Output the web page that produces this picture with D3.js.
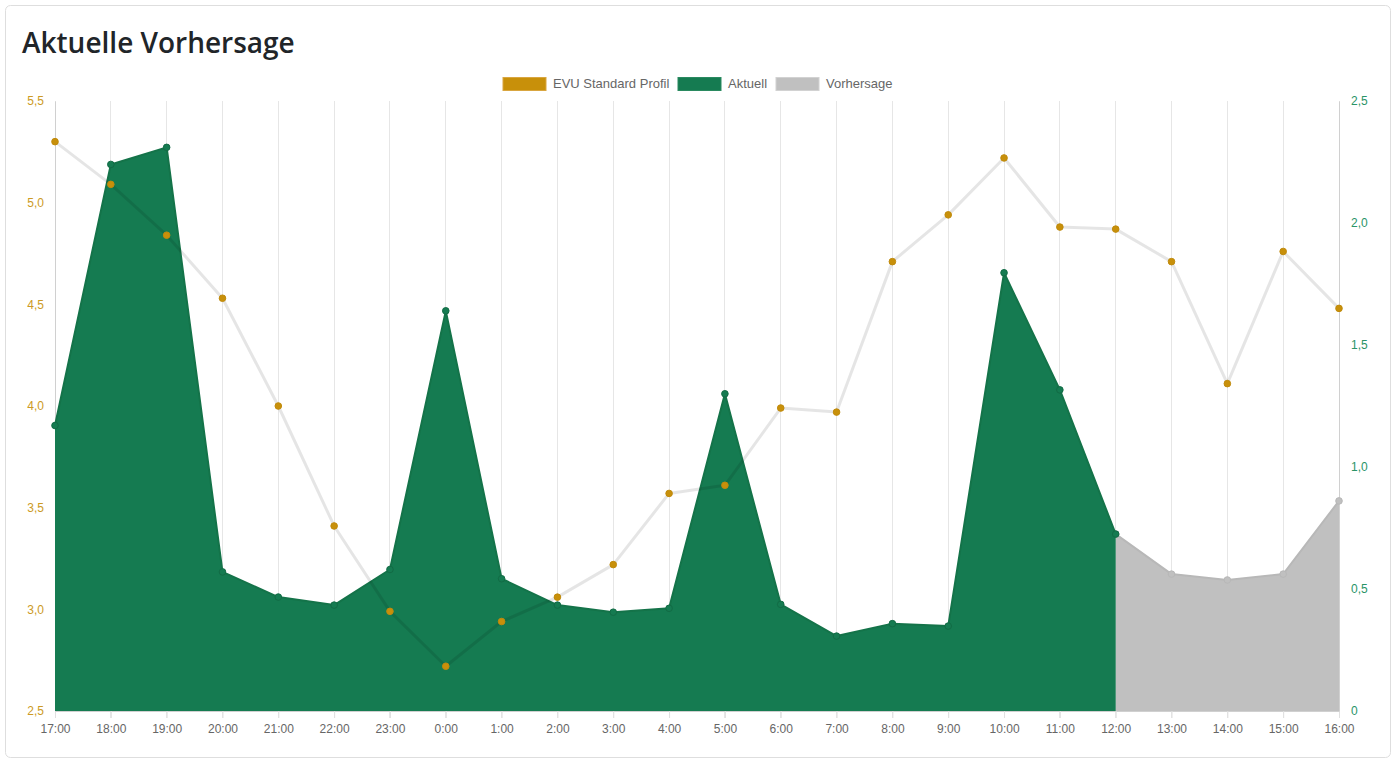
<!DOCTYPE html>
<html>
<head>
<meta charset="utf-8">
<script src="https://cdn.jsdelivr.net/npm/d3@7"></script>
<style>
  html, body { margin: 0; padding: 0; background: #fff; }
  svg { display: block; }
</style>
</head>
<body>
<svg id="chart" width="1397" height="760"></svg>
<script>
// ---- data ----
const hours = ["17:00","18:00","19:00","20:00","21:00","22:00","23:00","0:00","1:00","2:00","3:00","4:00",
               "5:00","6:00","7:00","8:00","9:00","10:00","11:00","12:00","13:00","14:00","15:00","16:00"];
const evuProfil = [5.30,5.09,4.84,4.53,4.00,3.41,2.99,2.72,2.94,3.06,3.22,3.57,
                   3.61,3.99,3.97,4.71,4.94,5.22,4.88,4.87,4.71,4.11,4.76,4.48];
const aktuell = [1.17,2.24,2.31,0.57,0.467,0.434,0.58,1.64,0.542,0.434,0.405,0.421,
                 1.30,0.437,0.307,0.358,0.348,1.796,1.316,0.725,null,null,null,null];
const vorhersage = [null,null,null,null,null,null,null,null,null,null,null,null,
                    null,null,null,null,null,null,null,0.725,0.561,0.537,0.561,0.861];
const leftTicks = [2.5,3.0,3.5,4.0,4.5,5.0,5.5];
const rightTicks = [0,0.5,1.0,1.5,2.0,2.5];
const legendItems = ["EVU Standard Profil","Aktuell","Vorhersage"];
const chartTitle = "Aktuelle Vorhersage";

(function () {
// ---- styles ----
const GOLD = "#c8900a", GREEN = "#157b51", GRAY = "#c0c0c0";
const fmt = v => d3.format(".1f")(v).replace(".", ",");
const fmtR = v => v === 0 ? "0" : d3.format(".1f")(v).replace(".", ",");

const svg = d3.select("#chart");
// card
svg.append("rect").attr("x",5.5).attr("y",5.5).attr("width",1385).attr("height",752)
  .attr("rx",5).attr("fill","#fff").attr("stroke","#dedede");
svg.append("text").attr("x",22).attr("y",53).text(chartTitle)
  .attr("font-family","'Open Sans', sans-serif").attr("font-weight",600)
  .attr("font-size",28).attr("fill","#212529");

const pL = 55, pR = 1339, pT = 101, pB = 711;
const x = d3.scalePoint().domain(hours).range([pL, pR]);
const yL = d3.scaleLinear().domain([2.5,5.5]).range([pB, pT]);
const yR = d3.scaleLinear().domain([0,2.5]).range([pB, pT]);

const font = "'Liberation Sans', Arial, sans-serif";

// vertical gridlines
svg.append("g").selectAll("line").data(hours).join("line")
  .attr("x1", d => x(d)).attr("x2", d => x(d)).attr("y1", pT).attr("y2", pB + 7)
  .attr("stroke", "#e6e6e6").attr("stroke-width", 1).attr("shape-rendering","crispEdges");

// x axis
const xAxis = svg.append("g").attr("transform", `translate(0,${pB})`)
  .call(d3.axisBottom(x).tickSize(7).tickPadding(6));
xAxis.select(".domain").attr("stroke","#d0d0d0");
xAxis.selectAll(".tick line").attr("stroke","#e0e0e0");
xAxis.selectAll("text").attr("font-family",font).attr("font-size",12).attr("fill","#666");

// left axis
const lAxis = svg.append("g").attr("transform", `translate(${pL},0)`)
  .call(d3.axisLeft(yL).tickValues(leftTicks).tickSize(0).tickPadding(11).tickFormat(fmt));
lAxis.select(".domain").attr("stroke","#d0d0d0");
lAxis.selectAll("text").attr("font-family",font).attr("font-size",12).attr("fill","#cc9a25");

// right axis
const rAxis = svg.append("g").attr("transform", `translate(${pR},0)`)
  .call(d3.axisRight(yR).tickValues(rightTicks).tickSize(0).tickPadding(12).tickFormat(fmtR));
rAxis.select(".domain").attr("stroke","#d0d0d0");
rAxis.selectAll("text").attr("font-family",font).attr("font-size",12).attr("fill","#2a9467");

const plot = svg.append("g");

function drawArea(vals, fill, stroke, ptStroke) {
  const data = hours.map((h,i) => ({h, v: vals[i]})).filter(d => d.v != null);
  const area = d3.area().x(d => x(d.h)).y0(pB).y1(d => yR(d.v));
  const line = d3.line().x(d => x(d.h)).y(d => yR(d.v));
  plot.append("path").attr("d", area(data)).attr("fill", fill);
  plot.append("path").attr("d", line(data)).attr("fill","none").attr("stroke", stroke)
    .attr("stroke-width", 2).attr("stroke-linejoin","round");
  plot.append("g").selectAll("circle").data(data).join("circle")
    .attr("cx", d => x(d.h)).attr("cy", d => yR(d.v)).attr("r", 3.3)
    .attr("fill", fill).attr("stroke", ptStroke).attr("stroke-width", 1);
}
// draw order: last dataset first
drawArea(vorhersage, GRAY, "#b8b8b8", "#b8b8b8");
drawArea(aktuell, GREEN, "#147349", "#126b45");

// EVU line on top
const evuData = hours.map((h,i) => ({h, v: evuProfil[i]}));
plot.append("path").attr("d", d3.line().x(d => x(d.h)).y(d => yL(d.v))(evuData))
  .attr("fill","none").attr("stroke","rgba(0,0,0,0.1)").attr("stroke-width",3)
  .attr("stroke-linejoin","round");
plot.append("g").selectAll("circle").data(evuData).join("circle")
  .attr("cx", d => x(d.h)).attr("cy", d => yL(d.v)).attr("r", 3.3)
  .attr("fill", GOLD).attr("stroke", "#c08a0c").attr("stroke-width", 1);

// legend
const legendColors = [[GOLD,"#d9a640"],[GREEN,"#2a8a60"],[GRAY,"#d2d2d2"]];
const legendX = [503, 678, 776];
const lg = svg.append("g");
legendItems.forEach((name, i) => {
  lg.append("rect").attr("x", legendX[i]).attr("y", 77.5).attr("width", 43).attr("height", 13)
    .attr("fill", legendColors[i][0]).attr("stroke", legendColors[i][1]).attr("stroke-width", 1);
  lg.append("text").attr("x", legendX[i] + 50).attr("y", 88).text(name)
    .attr("font-family", font).attr("font-size", 13).attr("fill", "#666");
});
})();
</script>
</body>
</html>
